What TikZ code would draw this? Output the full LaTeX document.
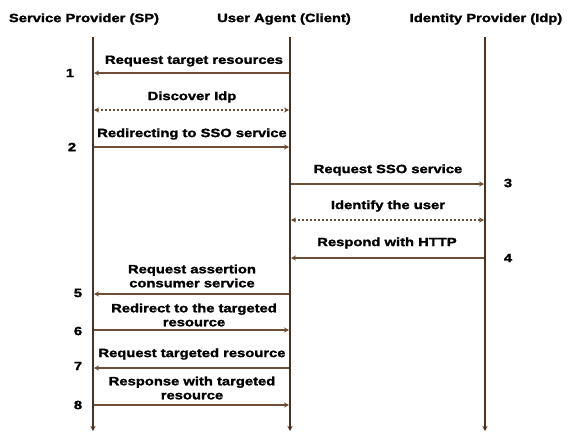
\documentclass[tikz,border=0pt]{standalone}
\usepackage{fontspec}
\setmainfont{Liberation Sans}[FakeStretch=1.23, BoldFeatures={FakeBold=1.6}]
\usetikzlibrary{arrows.meta}
\definecolor{lifec}{HTML}{4A3222}
\definecolor{msgc}{HTML}{6E4E36}
\begin{document}
\begin{tikzpicture}[x=1pt,y=-1pt,
  every node/.style={font=\fontsize{12}{14}\selectfont\bfseries, inner sep=0pt},
  title/.style={anchor=center},
  lifeline/.style={draw=lifec, line width=1.6pt, -{Stealth[length=5pt,width=5pt]}},
  msg/.style={draw=msgc, line width=2pt, -{Stealth[length=5pt,width=5pt,fill=lifec]}},
  dmsg/.style={draw=msgc, line width=2pt, dash pattern=on 2pt off 2pt, {Stealth[length=5pt,width=5pt]}-{Stealth[length=5pt,width=5pt]}},
  lbl/.style={align=center, text=black},
  num/.style={text=black}]
\useasboundingbox (0,0) rectangle (576,432);
\fill[white] (0,0) rectangle (576,432);
% titles
\node[title] (tsp) at (84,19) {Service Provider (SP)};
\node[title] (tua) at (284,19) {User Agent (Client)};
\node[title] (tidp) at (486,19) {Identity Provider (Idp)};
% lifelines
\coordinate (sptop) at (93,37); \coordinate (spbot) at (93,431);
\coordinate (uatop) at (290,37); \coordinate (uabot) at (290,431);
\coordinate (idtop) at (485,37); \coordinate (idbot) at (485,431);
\draw[lifeline] (sptop) -- (spbot);
\draw[lifeline] (uatop) -- (uabot);
\draw[lifeline] (idtop) -- (idbot);
% message endpoints
\foreach \n/\y in {1/73,2/110,3/147,4/184,5/220,6/258,7/294,8/330,9/368,10/405}{
  \coordinate (s\n) at (94,\y);
  \coordinate (u\n) at (289,\y);
  \coordinate (uu\n) at (291,\y);
  \coordinate (i\n) at (484,\y);
}
% messages
\draw[msg] (u1) -- (s1);
\node[lbl] (l1) at (194,61) {Request target resources};
\node[num] (n1) at (70,73) {1};

\draw[dmsg] (s2) -- (u2);
\node[lbl] (l2) at (192,97) {Discover Idp};

\draw[msg] (s3) -- (u3);
\node[lbl] (l3) at (192,134) {Redirecting to SSO service};
\node[num] (n2) at (72,147) {2};

\draw[msg] (uu4) -- (i4);
\node[lbl] (l4) at (388,170) {Request SSO service};
\node[num] (n3) at (508,183) {3};

\draw[dmsg] (uu5) -- (i5);
\node[lbl] (l5) at (388,206) {Identify the user};

\draw[msg] (i6) -- (uu6);
\node[lbl] (l6) at (387,243) {Respond with HTTP};
\node[num] (n4) at (508,258) {4};

\draw[msg] (u7) -- (s7);
\node[lbl] (l7) at (192,276) {Request assertion\\consumer service};
\node[num] (n5) at (78,293) {5};

\draw[msg] (s8) -- (u8);
\node[lbl] (l8) at (194,315) {Redirect to the targeted\\resource};
\node[num] (n6) at (78,331) {6};

\draw[msg] (u9) -- (s9);
\node[lbl] (l9) at (192,354) {Request targeted resource};
\node[num] (n7) at (78,366) {7};

\draw[msg] (s10) -- (u10);
\node[lbl] (l10) at (192,388) {Response with targeted\\resource};
\node[num] (n8) at (78,405) {8};
\end{tikzpicture}
\end{document}
